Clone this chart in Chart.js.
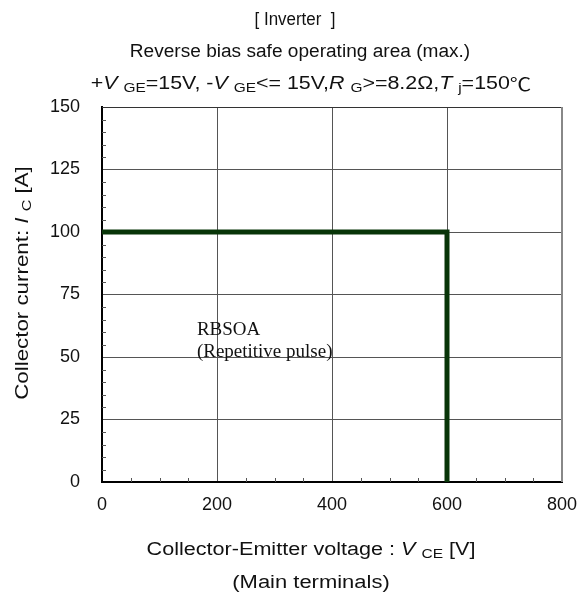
<!DOCTYPE html>
<html>
<head>
<meta charset="utf-8">
<script src="https://cdn.jsdelivr.net/npm/chart.js@4"></script>
<style>
  html, body { margin: 0; padding: 0; background: #fff; }
  #wrap { width: 584px; height: 596px; }
</style>
</head>
<body>
<div id="wrap"><canvas id="rbsoa" width="584" height="596"></canvas></div>
<script>
// RBSOA boundary, collector-emitter voltage [V] vs collector current [A]
const vce = [0, 600, 600];
const ic = [100, 100, 0];
const xTicks = [0, 200, 400, 600, 800];
const yTicks = [0, 25, 50, 75, 100, 125, 150];

const FONT = '"Liberation Sans", Arial, sans-serif';

function segFont(seg, size) {
    const fam = seg.f || FONT;
    return (seg.i ? 'italic ' : '') + (seg.s ? size * 0.72 : size) + 'px ' + fam;
}

// draws a line of text made of segments: {t, i (italic), s (subscript)}, centred, stretched by k
function richText(ctx, segs, cx, cy, size, k) {
    let w = 0;
    segs.forEach(seg => {
        ctx.font = segFont(seg, size);
        w += ctx.measureText(seg.t).width;
    });
    ctx.save();
    ctx.translate(cx, cy);
    ctx.scale(k || 1, 1);
    let x = -w / 2;
    ctx.textAlign = 'left';
    ctx.textBaseline = 'middle';
    segs.forEach(seg => {
        ctx.font = segFont(seg, size);
        ctx.fillText(seg.t, x, seg.s ? size * 0.22 : 0);
        x += ctx.measureText(seg.t).width;
    });
    ctx.restore();
}

const decorations = {
    id: 'decorations',
    afterDraw(chart) {
        const { ctx, chartArea: a, scales } = chart;
        const xs = scales.x, ys = scales.y;
        ctx.save();

        // minor ticks, pointing inwards
        ctx.strokeStyle = '#555';
        ctx.lineWidth = 1;
        ctx.beginPath();
        for (let v = 50; v < 800; v += 50) {
            if (v % 200 === 0) continue;
            const px = Math.round(xs.getPixelForValue(v)) + 0.5;
            ctx.moveTo(px, a.bottom);
            ctx.lineTo(px, a.bottom - 4);
        }
        for (let v = 5; v < 150; v += 5) {
            if (v % 25 === 0) continue;
            const py = Math.round(ys.getPixelForValue(v)) + 0.5;
            ctx.moveTo(a.left, py);
            ctx.lineTo(a.left + 4, py);
        }
        ctx.stroke();

        // top and right frame
        ctx.strokeStyle = '#333';
        ctx.lineWidth = 1;
        ctx.beginPath();
        ctx.moveTo(a.left, a.top + 0.5);
        ctx.lineTo(a.right, a.top + 0.5);
        ctx.stroke();
        ctx.strokeStyle = '#888';
        ctx.lineWidth = 2;
        ctx.beginPath();
        ctx.moveTo(a.right, a.top);
        ctx.lineTo(a.right, a.bottom);
        ctx.stroke();

        // titles
        ctx.fillStyle = '#111';
        richText(ctx, [{ t: '[ Inverter  ]' }], 295, 20, 18, 0.94);
        richText(ctx, [{ t: 'Reverse bias safe operating area (max.)' }], 300, 52, 18, 1.06);
        richText(ctx, [
            { t: '+' }, { t: 'V ', i: true }, { t: 'GE', s: true }, { t: '=15V, -' },
            { t: 'V ', i: true }, { t: 'GE', s: true }, { t: '<= 15V,' },
            { t: 'R ', i: true }, { t: 'G', s: true }, { t: '>=8.2\u03A9,' },
            { t: 'T ', i: true }, { t: 'j', s: true }, { t: '=150' },
            { t: '\u2103', f: '"Noto Sans CJK JP", sans-serif' }
        ], 311, 84, 18, 1.19);

        // axis titles
        richText(ctx, [
            { t: 'Collector-Emitter voltage : ' }, { t: 'V ', i: true }, { t: 'CE', s: true }, { t: ' [V]' }
        ], 311, 550, 18, 1.2);
        richText(ctx, [{ t: '(Main terminals)' }], 311, 583, 18, 1.22);

        ctx.save();
        ctx.translate(23, 283);
        ctx.rotate(-Math.PI / 2);
        richText(ctx, [
            { t: 'Collector current: ' }, { t: 'I ', i: true }, { t: 'C', s: true }, { t: ' [A]' }
        ], 0, 0, 18, 1.24);
        ctx.restore();

        // annotation
        ctx.font = '19px "Liberation Serif", "Times New Roman", serif';
        ctx.textAlign = 'left';
        ctx.textBaseline = 'middle';
        ctx.fillStyle = '#111';
        const ax = xs.getPixelForValue(165);
        ctx.fillText('RBSOA', ax, ys.getPixelForValue(60.8));
        ctx.fillText('(Repetitive pulse)', ax, ys.getPixelForValue(52));

        ctx.restore();
    }
};

const gridColor = ctx => {
    const v = ctx.tick ? ctx.tick.value : null;
    const scale = ctx.scale;
    if (v === scale.min || v === scale.max) return 'rgba(0,0,0,0)';
    return '#555';
};

new Chart(document.getElementById('rbsoa').getContext('2d'), {
    type: 'scatter',
    data: {
        datasets: [{
            data: vce.map((v, i) => ({ x: v, y: ic[i] })),
            showLine: true,
            borderColor: '#083508',
            borderWidth: 5,
            borderCapStyle: 'butt',
            borderJoinStyle: 'miter',
            pointRadius: 0,
            tension: 0,
        }],
    },
    options: {
        responsive: false,
        animation: false,
        devicePixelRatio: 1,
        layout: { padding: { left: 0, right: 22, top: 107, bottom: 0 } },
        plugins: {
            legend: { display: false },
            tooltip: { enabled: false },
            title: { display: false },
        },
        scales: {
            x: {
                type: 'linear',
                min: 0,
                max: 800,
                afterBuildTicks: s => { s.ticks = xTicks.map(v => ({ value: v })); },
                afterFit: s => { s.height = 114; s.paddingRight = 0; s.paddingLeft = 0; },
                grid: { color: gridColor, lineWidth: 1, drawTicks: false },
                border: { color: '#000', width: 2 },
                ticks: {
                    color: '#111',
                    padding: 12,
                    maxRotation: 0,
                    font: { family: FONT, size: 18 },
                },
            },
            y: {
                type: 'linear',
                min: 0,
                max: 150,
                afterBuildTicks: s => { s.ticks = yTicks.map(v => ({ value: v })); },
                afterFit: s => { s.width = 102; s.paddingTop = 0; s.paddingBottom = 0; },
                grid: { color: gridColor, lineWidth: 1, drawTicks: false },
                border: { color: '#000', width: 2 },
                ticks: {
                    color: '#111',
                    padding: 22,
                    font: { family: FONT, size: 18 },
                },
            },
        },
    },
    plugins: [decorations],
});
</script>
</body>
</html>
